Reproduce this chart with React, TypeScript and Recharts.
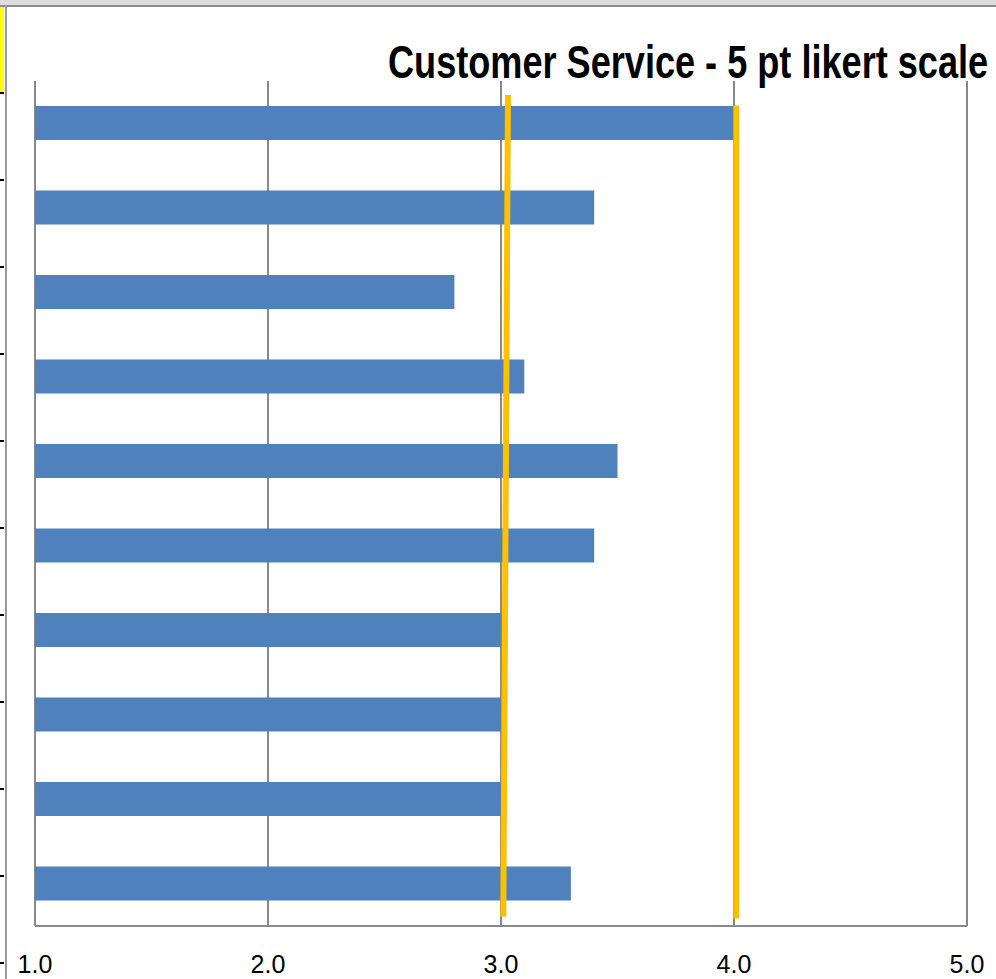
import { BarChart, Bar, XAxis, YAxis, CartesianGrid, ReferenceLine } from 'recharts'

// rows of the chart, top to bottom
const items = ['Item 1', 'Item 2', 'Item 3', 'Item 4', 'Item 5', 'Item 6', 'Item 7', 'Item 8', 'Item 9', 'Item 10']
const scores = [4.0, 3.4, 2.8, 3.1, 3.5, 3.4, 3.0, 3.0, 3.0, 3.3]
const scaleTicks = [1, 2, 3, 4, 5]

// target lines: x at top / bottom end, y on the hidden row axis (0 = top edge of plot, 9 = bottom edge)
const lowTargetX = [3.03, 3.01]
const lowTargetY = [0.15, 8.9]
const highTargetX = [4.01, 4.01]
const highTargetY = [0.26, 8.92]

const rowMarks = [92, 179, 266, 353, 440, 527, 614, 701, 788, 875, 962]

const data = items.map((name, i) => ({ name, score: scores[i] }))

const grey = '#898989'
const orange = '#FFC000'
const font = "'Liberation Sans', Arial, sans-serif"

export default function App() {
    return (
        <div style={{ position: 'absolute', left: 0, top: 0, width: 996, height: 979, background: '#fff', overflow: 'hidden' }}>
            {/* worksheet bits around the chart */}
            <div style={{ position: 'absolute', left: 0, top: 0, width: 996, height: 5, background: '#dcdcdc' }} />
            <div style={{ position: 'absolute', left: 0, top: 5, width: 996, height: 2, background: '#8c8c8c' }} />
            <div style={{ position: 'absolute', left: 5, top: 5, width: 2, height: 974, background: '#9a9a9a' }} />
            <div style={{ position: 'absolute', left: 0, top: 7, width: 4, height: 86, background: '#ffff00' }} />
            {rowMarks.map(y => (
                <div key={y} style={{ position: 'absolute', left: 0, top: y, width: 4, height: 2, background: '#000' }} />
            ))}

            <div style={{ position: 'absolute', left: 0, top: 0 }}>
                <BarChart width={996} height={979} data={data} layout="vertical"
                    margin={{ top: 81, right: 29, bottom: 13, left: 35 }}>
                    <CartesianGrid horizontal={false} stroke={grey} strokeWidth={2} />
                    <XAxis type="number" dataKey="score" domain={[1, 5]} ticks={scaleTicks} height={40}
                        tickFormatter={(v: number) => v.toFixed(1)} tickLine={false} tickMargin={23}
                        axisLine={{ stroke: grey, strokeWidth: 2 }}
                        tick={{ fill: '#000', fontSize: 25, fontFamily: font }} allowDataOverflow />
                    <YAxis type="category" dataKey="name" hide />
                    <YAxis yAxisId="pos" type="number" domain={[0, 9]} allowDataOverflow hide />
                    <Bar dataKey="score" fill="#4F81BD" barSize={34} isAnimationActive={false} />
                    <ReferenceLine yAxisId="pos" stroke={orange} strokeWidth={6} ifOverflow="visible"
                        segment={[{ x: lowTargetX[0], y: lowTargetY[0] }, { x: lowTargetX[1], y: lowTargetY[1] }]} />
                    <ReferenceLine yAxisId="pos" stroke={orange} strokeWidth={6} ifOverflow="visible"
                        segment={[{ x: highTargetX[0], y: highTargetY[0] }, { x: highTargetX[1], y: highTargetY[1] }]} />
                </BarChart>
            </div>

            <div style={{ position: 'absolute', left: 388, top: 36, whiteSpace: 'nowrap',
                transform: 'scaleX(0.785)', transformOrigin: 'left top',
                fontFamily: font, fontWeight: 'bold', fontSize: 46, lineHeight: '52px', color: '#000' }}>
                Customer Service - 5 pt likert scale
            </div>
        </div>
    )
}
